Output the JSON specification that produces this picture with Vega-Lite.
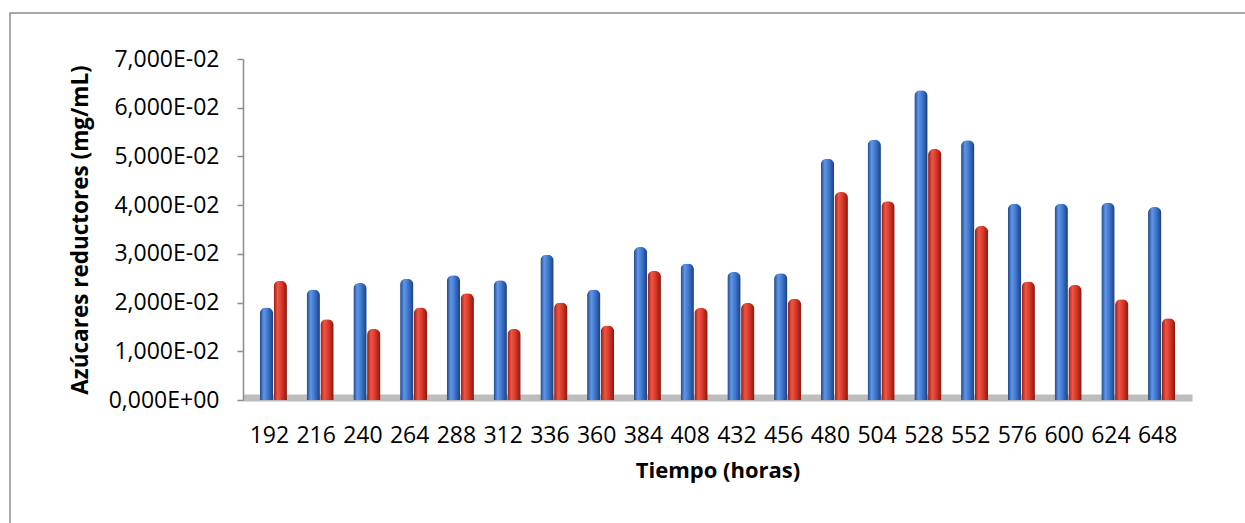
{
  "$schema": "https://vega.github.io/schema/vega-lite/v6.json",
  "width": 1250,
  "height": 520,
  "autosize": {"type": "none"},
  "padding": {"left": 10, "top": 13, "right": -15, "bottom": -10},
  "background": "white",
  "config": {
    "view": {"stroke": "#8c8c8c", "strokeWidth": 1.5},
    "font": "Open Sans"
  },
  "data": {
    "values": [
      {"tiempo": 192, "serie": "A", "valor": 0.0190}, {"tiempo": 192, "serie": "B", "valor": 0.0245},
      {"tiempo": 216, "serie": "A", "valor": 0.0227}, {"tiempo": 216, "serie": "B", "valor": 0.0166},
      {"tiempo": 240, "serie": "A", "valor": 0.0240}, {"tiempo": 240, "serie": "B", "valor": 0.0146},
      {"tiempo": 264, "serie": "A", "valor": 0.0249}, {"tiempo": 264, "serie": "B", "valor": 0.0190},
      {"tiempo": 288, "serie": "A", "valor": 0.0256}, {"tiempo": 288, "serie": "B", "valor": 0.0219},
      {"tiempo": 312, "serie": "A", "valor": 0.0246}, {"tiempo": 312, "serie": "B", "valor": 0.0146},
      {"tiempo": 336, "serie": "A", "valor": 0.0298}, {"tiempo": 336, "serie": "B", "valor": 0.0200},
      {"tiempo": 360, "serie": "A", "valor": 0.0227}, {"tiempo": 360, "serie": "B", "valor": 0.0153},
      {"tiempo": 384, "serie": "A", "valor": 0.0314}, {"tiempo": 384, "serie": "B", "valor": 0.0265},
      {"tiempo": 408, "serie": "A", "valor": 0.0280}, {"tiempo": 408, "serie": "B", "valor": 0.0189},
      {"tiempo": 432, "serie": "A", "valor": 0.0263}, {"tiempo": 432, "serie": "B", "valor": 0.0199},
      {"tiempo": 456, "serie": "A", "valor": 0.0260}, {"tiempo": 456, "serie": "B", "valor": 0.0208},
      {"tiempo": 480, "serie": "A", "valor": 0.0495}, {"tiempo": 480, "serie": "B", "valor": 0.0427},
      {"tiempo": 504, "serie": "A", "valor": 0.0534}, {"tiempo": 504, "serie": "B", "valor": 0.0408},
      {"tiempo": 528, "serie": "A", "valor": 0.0636}, {"tiempo": 528, "serie": "B", "valor": 0.0515},
      {"tiempo": 552, "serie": "A", "valor": 0.0533}, {"tiempo": 552, "serie": "B", "valor": 0.0357},
      {"tiempo": 576, "serie": "A", "valor": 0.0403}, {"tiempo": 576, "serie": "B", "valor": 0.0243},
      {"tiempo": 600, "serie": "A", "valor": 0.0403}, {"tiempo": 600, "serie": "B", "valor": 0.0236},
      {"tiempo": 624, "serie": "A", "valor": 0.0405}, {"tiempo": 624, "serie": "B", "valor": 0.0207},
      {"tiempo": 648, "serie": "A", "valor": 0.0396}, {"tiempo": 648, "serie": "B", "valor": 0.0168}
    ]
  },
  "encoding": {
    "x": {
      "field": "tiempo",
      "type": "ordinal",
      "scale": {"range": [233, 1182], "paddingInner": 0.42, "paddingOuter": 0.36},
      "axis": {
        "orient": "bottom",
        "offset": -135.5,
        "domainColor": "#bdbdbd",
        "domainWidth": 7,
        "ticks": false,
        "tickSize": 0,
        "labelAngle": 0,
        "labelOffset": -4,
        "labelFont": "Open Sans",
        "labelFontSize": 23,
        "labelColor": "#000000",
        "labelPadding": 27,
        "title": "Tiempo (horas)",
        "titleFont": "Open Sans",
        "titleFontSize": 22,
        "titleFontWeight": "bold",
        "titleColor": "#000000",
        "titlePadding": 13
      }
    },
    "xOffset": {"field": "serie", "scale": {"domain": ["A", "B"], "paddingInner": 0.03}},
    "y": {
      "field": "valor",
      "type": "quantitative",
      "scale": {"domain": [0, 0.07], "range": [387, 46], "nice": false, "zero": true},
      "axis": {
        "orient": "left",
        "offset": -233,
        "values": [0, 0.01, 0.02, 0.03, 0.04, 0.05, 0.06, 0.07],
        "labelExpr": "datum.value == 0 ? '0,000E+00' : replace(format(datum.value * 100, '.3f'), '.', ',') + 'E-02'",
        "grid": false,
        "domainColor": "#8c8c8c",
        "domainWidth": 1.5,
        "tickColor": "#8c8c8c",
        "tickWidth": 1.5,
        "tickSize": 6,
        "labelFont": "Open Sans",
        "labelFontSize": 23,
        "labelColor": "#000000",
        "labelPadding": 18,
        "title": "Azúcares reductores (mg/mL)",
        "titleFont": "Open Sans",
        "titleFontSize": 22.5,
        "titleFontWeight": "bold",
        "titleColor": "#000000",
        "titlePadding": 16
      }
    }
  },
  "layer": [
    {
      "transform": [{"filter": "datum.serie == 'A'"}],
      "mark": {
        "type": "bar",
        "cornerRadiusTopLeft": 6,
        "cornerRadiusTopRight": 6,
        "color": {
          "gradient": "linear", "x1": 0, "x2": 1, "y1": 0, "y2": 0,
          "stops": [
            {"offset": 0, "color": "#1c4587"},
            {"offset": 0.3, "color": "#6096e6"},
            {"offset": 0.6, "color": "#3f75cd"},
            {"offset": 1, "color": "#1a4080"}
          ]
        }
      }
    },
    {
      "transform": [{"filter": "datum.serie == 'B'"}],
      "mark": {
        "type": "bar",
        "cornerRadiusTopLeft": 6,
        "cornerRadiusTopRight": 6,
        "color": {
          "gradient": "linear", "x1": 0, "x2": 1, "y1": 0, "y2": 0,
          "stops": [
            {"offset": 0, "color": "#961a10"},
            {"offset": 0.3, "color": "#ee5644"},
            {"offset": 0.6, "color": "#d8382a"},
            {"offset": 1, "color": "#8a180e"}
          ]
        }
      }
    }
  ]
}
